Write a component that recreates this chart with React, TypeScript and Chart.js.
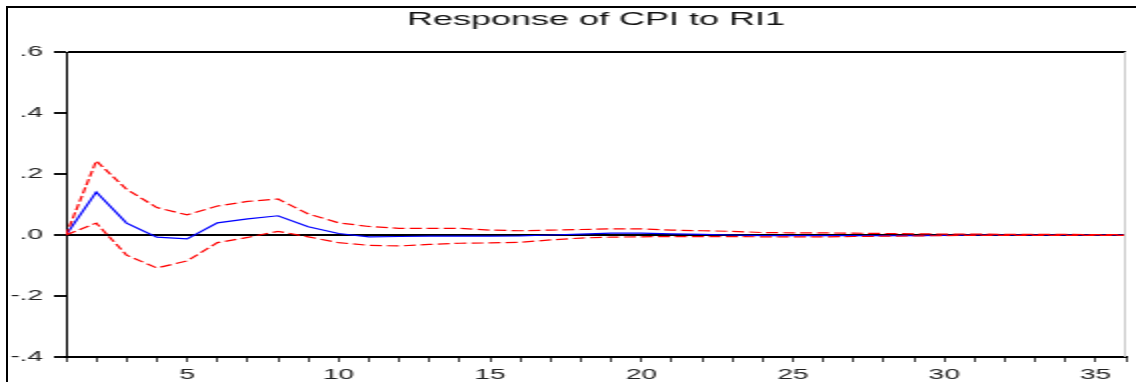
import React, { useEffect, useRef } from "react";
import { Chart, registerables } from "chart.js";

Chart.register(...registerables);

// ---- data ----
const periods = [
  1, 2, 3, 4, 5, 6, 7, 8, 9, 10, 11, 12, 13, 14, 15, 16, 17, 18,
  19, 20, 21, 22, 23, 24, 25, 26, 27, 28, 29, 30, 31, 32, 33, 34, 35, 36,
];

const response = [
  0.0, 0.141, 0.039, -0.007, -0.013, 0.04, 0.053, 0.063, 0.027, 0.005,
  -0.006, -0.005, -0.004, -0.004, -0.004, -0.003, 0.0, 0.003, 0.006, 0.006,
  0.004, 0.002, 0.0, -0.002, -0.002, -0.002, -0.002, -0.002, -0.002, -0.001,
  0.0, 0.0, 0.0, 0.0, 0.0, 0.0,
];

const upperBand = [
  0.0, 0.243, 0.15, 0.09, 0.066, 0.095, 0.11, 0.118, 0.069, 0.04,
  0.028, 0.022, 0.022, 0.022, 0.016, 0.014, 0.016, 0.018, 0.02, 0.02,
  0.016, 0.014, 0.012, 0.008, 0.007, 0.007, 0.006, 0.005, 0.004, 0.003,
  0.003, 0.002, 0.002, 0.002, 0.001, 0.001,
];

const lowerBand = [
  0.0, 0.039, -0.066, -0.108, -0.085, -0.025, -0.008, 0.012, -0.006, -0.025,
  -0.034, -0.036, -0.031, -0.027, -0.026, -0.024, -0.016, -0.01, -0.007, -0.006,
  -0.005, -0.005, -0.005, -0.006, -0.006, -0.006, -0.005, -0.004, -0.003, -0.002,
  -0.001, -0.001, -0.001, -0.001, -0.001, -0.001,
];

const yTickValues = [-0.4, -0.2, 0.0, 0.2, 0.4, 0.6];
const yTickLabels = ["-.4", "-.2", ".0", ".2", ".4", ".6"];
const xTickLabels = [5, 10, 15, 20, 25, 30, 35];

const titleText = "Response of CPI to RI1";
const FONT = "'Liberation Sans', Arial, sans-serif";

const framePlugin = {
  id: "frame",
  beforeDraw(chart: any) {
    const { ctx } = chart;
    ctx.save();
    ctx.fillStyle = "#ffffff";
    ctx.fillRect(0, 0, chart.width, chart.height);
    ctx.restore();
  },
  afterDraw(chart: any) {
    const { ctx, chartArea } = chart;
    ctx.save();
    ctx.setLineDash([]);
    ctx.strokeStyle = "#cccccc";
    ctx.lineWidth = 1;
    ctx.beginPath();
    ctx.moveTo(chartArea.right - 0.5, chartArea.top);
    ctx.lineTo(chartArea.right - 0.5, chartArea.bottom);
    ctx.stroke();
    ctx.restore();
  },
};

export default function App() {
  const ref = useRef<HTMLCanvasElement>(null);

  useEffect(() => {
    const canvas = ref.current;
    if (!canvas) return;
    const toPts = (arr: number[]) => periods.map((p, i) => ({ x: p, y: arr[i] }));
    const chart = new Chart(canvas, {
      type: "line",
      data: {
        datasets: [
          {
            label: "Upper",
            data: toPts(upperBand),
            borderColor: "#ff0000",
            borderWidth: 1.2,
            borderDash: [6, 2.5],
            pointRadius: 0,
            tension: 0,
            fill: false,
          },
          {
            label: "Lower",
            data: toPts(lowerBand),
            borderColor: "#ff0000",
            borderWidth: 1.2,
            borderDash: [6, 2.5],
            pointRadius: 0,
            tension: 0,
            fill: false,
          },
          {
            label: "Response",
            data: toPts(response),
            borderColor: "#0000ff",
            borderWidth: 1.2,
            pointRadius: 0,
            tension: 0,
            fill: false,
          },
        ],
      },
      options: {
        responsive: false,
        animation: false,
        devicePixelRatio: 1,
        layout: { padding: 0 },
        plugins: {
          legend: { display: false },
          tooltip: { enabled: false },
          title: {
            display: true,
            text: titleText,
            fullSize: false,
            color: "#111111",
            font: { family: FONT, size: 18, weight: "normal", lineHeight: 1.2 },
            padding: { top: 9, bottom: 21.4 },
          },
        },
        scales: {
          x: {
            type: "linear",
            min: 1,
            max: 36,
            afterFit(scale: any) {
              scale.height = 25;
            },
            afterBuildTicks(scale: any) {
              scale.ticks = periods.map((p) => ({ value: p }));
            },
            ticks: {
              autoSkip: false,
              maxRotation: 0,
              padding: 5,
              color: "#222222",
              font: { family: FONT, size: 14 },
              callback: (v: any) => (xTickLabels.includes(Number(v)) ? String(v) : ""),
            },
            grid: {
              drawOnChartArea: false,
              drawTicks: true,
              tickLength: 5,
              tickColor: "#111111",
              tickWidth: 0.8,
            },
            border: { display: true, color: "#000000", width: 2 },
          },
          y: {
            type: "linear",
            min: -0.4,
            max: 0.6,
            afterFit(scale: any) {
              scale.width = 33;
            },
            afterBuildTicks(scale: any) {
              scale.ticks = yTickValues.map((v) => ({ value: v }));
            },
            ticks: {
              padding: 5.5,
              color: "#222222",
              font: { family: FONT, size: 14 },
              callback: (v: any) => {
                const idx = yTickValues.findIndex((t) => Math.abs(t - Number(v)) < 1e-9);
                return idx >= 0 ? yTickLabels[idx] : "";
              },
            },
            grid: {
              drawOnChartArea: true,
              drawTicks: true,
              tickLength: 6,
              tickColor: "#111111",
              tickWidth: 2,
              lineWidth: 2,
              color: (ctx: any) =>
                ctx.tick && (Math.abs(ctx.tick.value) < 1e-9 || Math.abs(ctx.tick.value - 0.6) < 1e-9)
                  ? "#000000"
                  : "rgba(0,0,0,0)",
            },
            border: { display: true, color: "#000000", width: 1 },
          },
        },
      },
      plugins: [framePlugin],
    } as any);
    return () => chart.destroy();
  }, []);

  return (
    <div
      style={{
        position: "fixed",
        left: 0,
        top: 0,
        width: 1136,
        height: 382,
        overflow: "hidden",
        background: "#ffffff",
      }}
    >
      <canvas
        ref={ref}
        width={568}
        height={382}
        style={{ display: "block", width: "1136px", height: "382px" }}
      />
      <div
        style={{
          position: "absolute",
          left: 6,
          top: 6,
          width: 1140,
          height: 390,
          borderTop: "2px solid #000",
          borderLeft: "2px solid #000",
          boxSizing: "border-box",
          pointerEvents: "none",
        }}
      />
    </div>
  );
}
